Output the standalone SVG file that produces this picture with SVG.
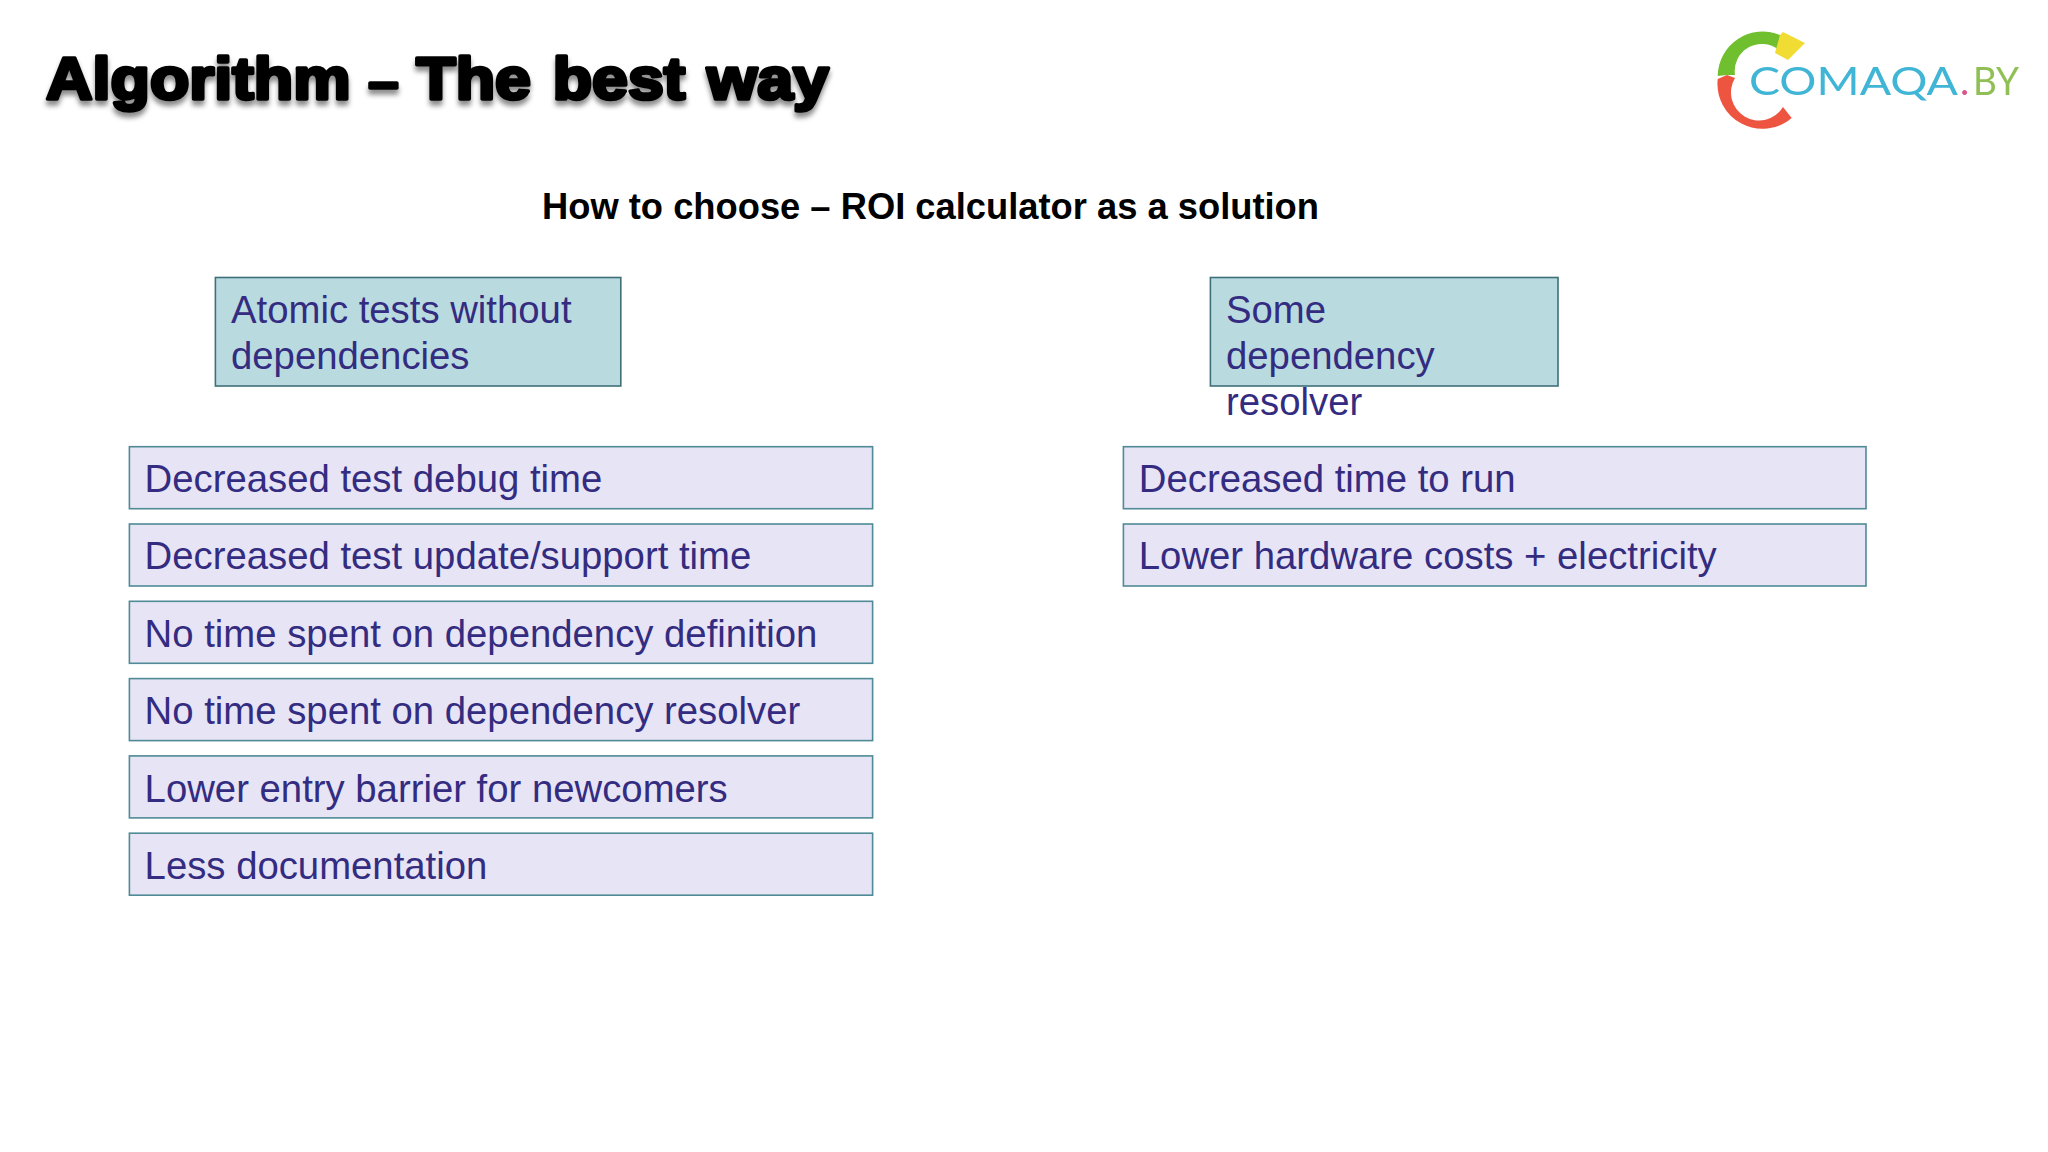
<svg xmlns="http://www.w3.org/2000/svg" width="2048" height="1152" viewBox="0 0 2048 1152">
<style>
text{font-family:"Liberation Sans",Arial,sans-serif}
.h{fill:#b9dbe0;stroke:#3f6f78;stroke-width:1.6}
.i{fill:#e7e4f5;stroke:#4f8a96;stroke-width:1.6}
.t{font-size:38.3px;fill:#332c80}
.title{font-size:60px;font-weight:700;fill:#000;stroke:#000;stroke-width:3.6px;stroke-linejoin:round}
.sub{font-size:36px;font-weight:700;fill:#000}
.logo{font-family:Lato,"Open Sans",sans-serif;font-weight:400;font-size:39px}
</style>
<defs>
<filter id="shadow" x="-5%" y="-30%" width="110%" height="170%"><feDropShadow dx="0" dy="5" stdDeviation="2.5" flood-color="#000" flood-opacity="0.45"/></filter>
<filter id="soft" x="-5%" y="-5%" width="110%" height="110%"><feGaussianBlur stdDeviation="0.6"/></filter>
</defs>
<rect width="2048" height="1152" fill="#fff"/>
<g id="title"><text class="title" transform="translate(46 98.7) scale(1.075 1)" filter="url(#shadow)">Algorithm <tspan font-size="50">–</tspan> The <tspan dx="3.6">best</tspan> <tspan dx="3.6">way</tspan></text></g>
<g id="logo" filter="url(#soft)">
<path d="M1780 35A45 45 0 0 0 1717.7 76L1727 75L1735 75A27 27 0 0 1 1778.7 50Z" fill="#6fbf2f"/>
<path d="M1780 35L1783 32L1805 43L1788 60L1775 53Z" fill="#f0dc32"/>
<path d="M1717.7 79L1727 75L1735 78A27 27 0 0 0 1783 107L1791.7 118A45 45 0 0 1 1717.7 79Z" fill="#ee5540"/>
<text class="logo" x="1749" y="95" textLength="209" lengthAdjust="spacingAndGlyphs" fill="#3fb5d5">COMAQA</text>
<text class="logo" x="1960" y="95" fill="#d9558a" font-size="30">.</text>
<text class="logo" x="1973" y="95" textLength="46" lengthAdjust="spacingAndGlyphs" fill="#8fbf55">BY</text>
</g>
<g id="subtitle"><text class="sub" x="542" y="219.3" textLength="777" lengthAdjust="spacingAndGlyphs">How to choose – ROI calculator as a solution</text></g>
<g id="head-left"><rect class="h" x="215.4" y="277.5" width="405.4" height="108.5"/><text class="t" x="231" y="323.2">Atomic tests without</text><text class="t" x="231" y="369.2">dependencies</text></g>
<g id="head-right"><rect class="h" x="1210.4" y="277.5" width="347.6" height="108.5"/><text class="t" x="1226" y="323.2">Some</text><text class="t" x="1226" y="369.2">dependency</text><text class="t" x="1226" y="415.2">resolver</text></g>
<g id="left-1"><rect class="i" x="129.4" y="446.7" width="743.2" height="62"/><text class="t" x="144.6" y="492.3">Decreased test debug time</text></g>
<g id="left-2"><rect class="i" x="129.4" y="524" width="743.2" height="62"/><text class="t" x="144.6" y="569.2">Decreased test update/support time</text></g>
<g id="left-3"><rect class="i" x="129.4" y="601.3" width="743.2" height="62"/><text class="t" x="144.6" y="646.9">No time spent on dependency definition</text></g>
<g id="left-4"><rect class="i" x="129.4" y="678.6" width="743.2" height="62"/><text class="t" x="144.6" y="724.2">No time spent on dependency resolver</text></g>
<g id="left-5"><rect class="i" x="129.4" y="755.9" width="743.2" height="62"/><text class="t" x="144.6" y="801.5">Lower entry barrier for newcomers</text></g>
<g id="left-6"><rect class="i" x="129.4" y="833.2" width="743.2" height="62"/><text class="t" x="144.6" y="878.8">Less documentation</text></g>
<g id="right-1"><rect class="i" x="1123.4" y="446.7" width="742.6" height="62"/><text class="t" x="1138.8" y="492.3">Decreased time to run</text></g>
<g id="right-2"><rect class="i" x="1123.4" y="524" width="742.6" height="62"/><text class="t" x="1138.8" y="569.2">Lower hardware costs + electricity</text></g>
</svg>
